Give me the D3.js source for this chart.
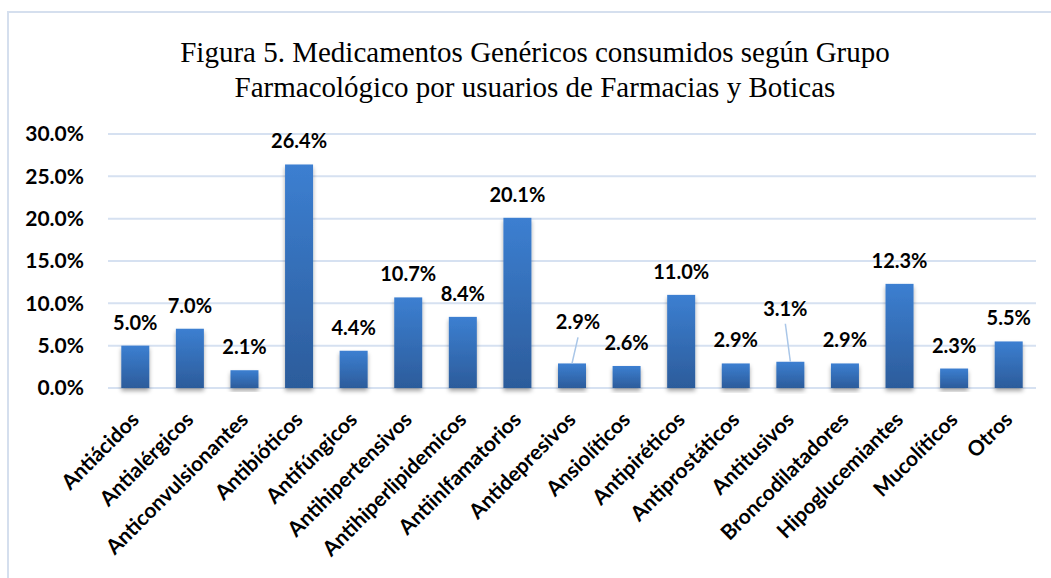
<!DOCTYPE html>
<html>
<head>
<meta charset="utf-8">
<script src="https://cdn.jsdelivr.net/npm/d3@7"></script>
<style>
  body { margin: 0; background: #fff; }
  .tick-y { font-family: Lato, sans-serif; font-weight: bold; font-size: 21px; fill: #000; }
  .lbl { font-family: Lato, sans-serif; font-weight: bold; font-size: 20px; fill: #000; }
  .cat { font-family: Lato, sans-serif; font-weight: bold; font-size: 21px; fill: #000; }
  .title { font-family: "Liberation Serif", "Times New Roman", serif; font-size: 29px; fill: #000; }
</style>
</head>
<body>
<div class="render"></div>
<script>
"use strict";

var width = 1051;
var height = 578;

var categories = ["Antiácidos", "Antialérgicos", "Anticonvulsionantes", "Antibióticos", "Antifúngicos",
   "Antihipertensivos", "Antihiperlipidemicos", "Antiinlfamatorios", "Antidepresivos", "Ansiolíticos",
   "Antipiréticos", "Antiprostáticos", "Antitusivos", "Broncodilatadores", "Hipoglucemiantes",
   "Mucolíticos", "Otros"];
var values = [5.0, 7.0, 2.1, 26.4, 4.4, 10.7, 8.4, 20.1, 2.9, 2.6, 11.0, 2.9, 3.1, 2.9, 12.3, 2.3, 5.5];
var yTicks = [0, 5, 10, 15, 20, 25, 30];
var titleLines = ["Figura 5. Medicamentos Genéricos consumidos según Grupo",
   "Farmacológico por usuarios de Farmacias y Boticas"];

// labels dragged up by hand in the original, with a leader line: [dx, lift]
var lift = { "Antidepresivos": [6, 18], "Antitusivos": [-5, 30] };

var svg = d3.select('.render').append('svg').attr('width', width).attr('height', height);

var defs = svg.append('defs');
var grad = defs.append('linearGradient').attr('id', 'barGrad')
   .attr('x1', 0).attr('y1', 0).attr('x2', 0).attr('y2', 1);
grad.append('stop').attr('offset', '0%').attr('stop-color', '#3c7fd1');
grad.append('stop').attr('offset', '100%').attr('stop-color', '#2c5c9b');
var shadow = defs.append('filter').attr('id', 'shadow')
   .attr('x', '-20%').attr('y', '-20%').attr('width', '140%').attr('height', '140%');
shadow.append('feDropShadow').attr('dx', 0).attr('dy', 3).attr('stdDeviation', 2)
   .attr('flood-color', '#000').attr('flood-opacity', 0.35);

// chart frame
svg.append('rect').attr('x', 8).attr('y', 12).attr('width', width).attr('height', height)
   .attr('fill', 'none').attr('stroke', '#d5dfee').attr('stroke-width', 2);

var x = d3.scaleBand().domain(categories).range([108, 1036]).paddingInner(0.487).paddingOuter(0.2435);
var y = d3.scaleLinear().domain([0, 30]).range([388, 134]);

svg.selectAll('.title').data(titleLines).enter().append('text')
   .attr('class', 'title').attr('x', 535).attr('y', function (d, i) { return 62 + i * 35; })
   .attr('text-anchor', 'middle').text(function (d) { return d; });

svg.selectAll('.grid').data(yTicks).enter().append('line')
   .attr('x1', 108).attr('x2', 1036)
   .attr('y1', function (d) { return y(d); }).attr('y2', function (d) { return y(d); })
   .attr('stroke', '#d6e1f1').attr('stroke-width', 2);

svg.selectAll('.tick-y').data(yTicks).enter().append('text')
   .attr('class', 'tick-y').attr('x', 84).attr('y', function (d) { return y(d); })
   .attr('dy', '0.35em').attr('text-anchor', 'end')
   .text(function (d) { return d3.format('.1f')(d) + '%'; });

svg.selectAll('.bar').data(values).enter().append('rect')
   .attr('class', 'bar')
   .attr('x', function (d, i) { return x(categories[i]); })
   .attr('width', x.bandwidth())
   .attr('y', function (d) { return y(d); })
   .attr('height', function (d) { return y(0) - y(d); })
   .attr('fill', 'url(#barGrad)')
   .attr('filter', 'url(#shadow)');

values.forEach(function (d, i) {
   var l = lift[categories[i]];
   if (!l) return;
   var cx = x(categories[i]) + x.bandwidth() / 2;
   svg.append('line')
      .attr('x1', cx + l[0]).attr('y1', y(d) - 16 - l[1] + 8)
      .attr('x2', cx).attr('y2', y(d))
      .attr('stroke', '#a9c6e8').attr('stroke-width', 1.5);
});

svg.selectAll('.lbl').data(values).enter().append('text')
   .attr('class', 'lbl')
   .attr('x', function (d, i) {
      var l = lift[categories[i]];
      return x(categories[i]) + x.bandwidth() / 2 + (l ? l[0] : 0);
   })
   .attr('y', function (d, i) {
      var l = lift[categories[i]];
      return y(d) - 16 - (l ? l[1] : 0);
   })
   .attr('text-anchor', 'middle')
   .text(function (d) { return d3.format('.1f')(d) + '%'; });

svg.selectAll('.cat').data(categories).enter().append('text')
   .attr('class', 'cat')
   .attr('transform', function (d) {
      return 'translate(' + (x(d) + x.bandwidth() / 2 + 5) + ',421) rotate(-45)';
   })
   .attr('text-anchor', 'end')
   .text(function (d) { return d; });
</script>
</body>
</html>
